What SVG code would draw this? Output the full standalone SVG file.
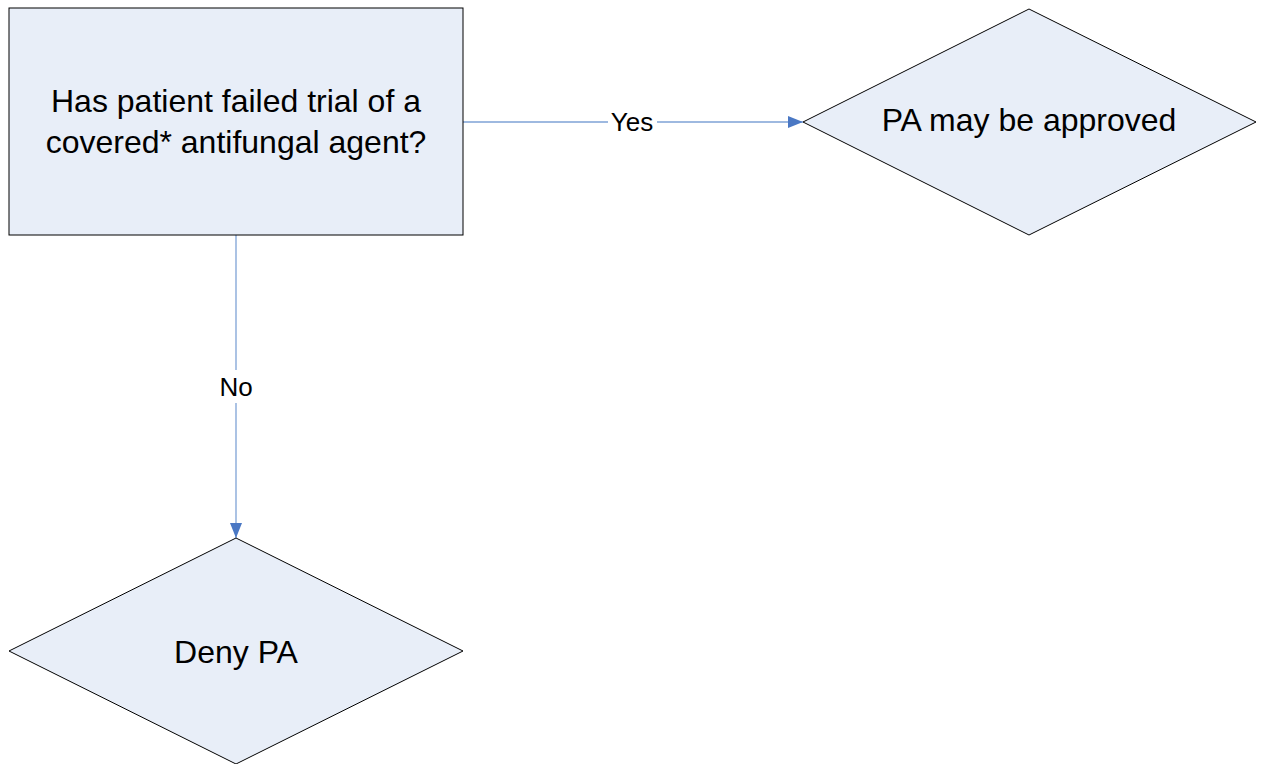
<svg xmlns="http://www.w3.org/2000/svg" width="1264" height="764" viewBox="0 0 1264 764">
<style>
.node{fill:#e8eef8;stroke:#000;stroke-width:1}
.t{font-family:"Liberation Sans",Arial,sans-serif;font-size:32px;fill:#000;text-anchor:middle}
.lbl{font-family:"Liberation Sans",Arial,sans-serif;font-size:26px;fill:#000;text-anchor:middle}
.conn{stroke:#7ea2d6;stroke-width:1.3;fill:none}
</style>
<defs>
<marker id="arr" markerUnits="userSpaceOnUse" markerWidth="16" markerHeight="12" refX="15" refY="6" orient="auto">
<path d="M0,0 L15,6 L0,12 Z" fill="#4a78c4"/>
</marker>
</defs>
<rect width="1264" height="764" fill="#fff"/>
<g id="connectors">
<g id="edge-yes">
<line class="conn" x1="463" y1="122" x2="803" y2="122" marker-end="url(#arr)"/>
<rect x="608" y="108" width="49" height="28" fill="#fff"/>
<text class="lbl" x="632" y="131">Yes</text>
</g>
<g id="edge-no">
<line class="conn" x1="236" y1="235" x2="236" y2="538" marker-end="url(#arr)"/>
<rect x="216" y="370" width="40" height="33" fill="#fff"/>
<text class="lbl" x="236" y="396">No</text>
</g>
</g>
<g id="node-question">
<rect class="node" x="9" y="8" width="454" height="227"/>
<text class="t" x="236" y="112">Has patient failed trial of a</text>
<text class="t" x="236" y="153">covered* antifungal agent?</text>
</g>
<g id="node-approved">
<polygon class="node" points="803,122 1029,9 1256,122 1029,235"/>
<text class="t" x="1029" y="131">PA may be approved</text>
</g>
<g id="node-deny">
<polygon class="node" points="236,538 463,651 236,764 9,651"/>
<text class="t" x="236" y="663">Deny PA</text>
</g>
</svg>
